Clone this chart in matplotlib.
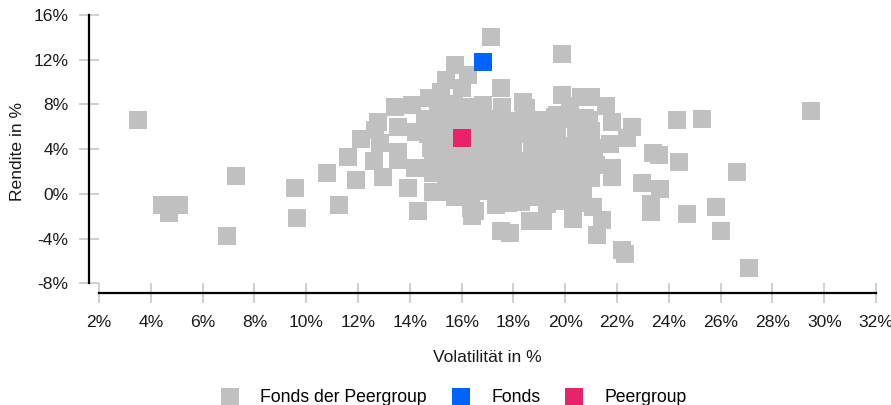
import numpy as np
import matplotlib
matplotlib.use('Agg')
import matplotlib.pyplot as plt

# Peergroup funds: volatility (x) and return (y), in percent
# outliers and left flank
peer_vol = [3.5, 4.45, 5.07, 4.7, 7.27, 6.96, 9.55, 9.66, 10.82, 11.28,
            11.63, 11.94, 12.13, 12.6, 12.98, 12.64, 12.78, 12.85, 13.42, 13.56,
            13.56, 13.56, 13.94, 14.1, 14.19, 14.24, 14.33, 14.75, 14.88, 14.9,
            14.9, 15.4, 15.73, 16.26, 16.0, 15.2, 15.73, 16.36, 16.41, 16.5,
            # top and right flank
            17.12, 19.89, 17.5, 16.84, 17.57, 18.35, 18.5, 19.86, 20.6, 21.0,
            21.58, 19.7, 20.76, 21.82, 22.56, 22.4, 21.73, 20.96, 21.8, 21.8,
            24.33, 25.26, 29.5, 23.4, 23.6, 24.4, 26.64, 22.95, 23.67, 23.3,
            23.3, 24.69, 25.8, 26.03, 27.1, 22.2, 22.3, 21.24, 21.4, 21.08,
            20.31, 18.64, 19.15, 17.5, 17.87, 17.33, 18.94, 19.28,
            # dense core
            15.1, 15.7, 16.3, 20.2,
            14.6, 15.2, 15.9, 16.5, 17.1, 17.8, 18.4, 19.0, 19.6, 20.2, 20.9,
            14.7, 15.3, 15.8, 16.6, 17.2, 17.9, 18.5, 19.1, 19.7, 20.4, 21.0,
            14.8, 15.5, 16.2, 16.8, 17.4, 18.0, 18.7, 19.3, 19.9, 20.5, 21.1,
            15.0, 15.6, 16.3, 16.9, 17.5, 18.2, 18.8, 19.4, 20.0, 20.6, 21.2,
            15.4, 16.0, 16.6, 17.3, 17.9, 18.5, 19.1, 19.8, 20.4, 21.0,
            15.6, 16.2, 16.9, 17.6, 18.2, 18.8, 19.5, 20.1, 20.7,
            17.8, 18.3, 20.0, 20.6]
peer_ret = [6.6, -1.0, -1.0, -1.75, 1.64, -3.81, 0.48, -2.2, 1.84, -1.02,
            3.27, 1.21, 4.88, 2.94, 1.48, 5.71, 6.46, 4.52, 7.74, 6.0,
            3.77, 3.03, 0.5, 7.98, 2.29, 5.57, -1.56, 8.55, 3.18, 1.84,
            0.2, 10.2, 11.53, 10.6, 9.44, 9.1, -0.28, -1.29, -1.95, -1.5,
            14.0, 12.48, 9.44, 7.95, 7.8, 8.26, 7.7, 8.87, 8.7, 8.7,
            7.83, 7.08, 6.76, 6.4, 6.0, 4.97, 4.5, 4.82, 2.29, 1.54,
            6.58, 6.67, 7.39, 3.7, 3.5, 2.82, 1.93, 0.95, 0.44, -0.9,
            -1.6, -1.83, -1.2, -3.35, -6.66, -5.0, -5.4, -3.68, -2.3, -1.15,
            -2.25, -2.43, -2.43, -3.32, -3.5, -1.0, -0.25, -0.9,
            7.9, 8.0, 7.8, 7.9,
            6.7, 6.9, 6.6, 6.8, 6.7, 6.5, 6.8, 6.6, 6.9, 6.7, 6.6,
            5.4, 5.3, 5.6, 5.4, 5.2, 5.5, 5.4, 5.3, 5.5, 5.4, 5.6,
            4.1, 4.0, 4.2, 4.1, 3.9, 4.2, 4.0, 4.1, 4.3, 4.0, 4.1,
            2.8, 2.7, 2.9, 2.8, 2.6, 2.9, 2.8, 2.7, 2.9, 2.8, 2.6,
            1.5, 1.4, 1.6, 1.5, 1.3, 1.6, 1.4, 1.5, 1.6, 1.4,
            0.2, 0.1, 0.3, 0.2, 0.0, 0.3, 0.1, 0.2, 0.3,
            -0.8, -0.7, -0.6, -0.8]

fund_vol = [16.81]
fund_ret = [11.77]
group_vol = [16.0]
group_ret = [4.97]

x_ticks = [2, 4, 6, 8, 10, 12, 14, 16, 18, 20, 22, 24, 26, 28, 30, 32]
y_ticks = [-8, -4, 0, 4, 8, 12, 16]

plt.rcParams['font.family'] = ['Liberation Sans', 'DejaVu Sans']

fig = plt.figure(figsize=(8.91, 4.05), dpi=100)
ax = fig.add_axes([89 / 891, 1 - 293 / 405, 791 / 891, 283 / 405])

sq = 150
h1 = ax.scatter(peer_vol, peer_ret, s=sq, marker='s', color='#c0c0c0',
                linewidths=0, clip_on=False, zorder=2)
h2 = ax.scatter(fund_vol, fund_ret, s=sq, marker='s', color='#0062ff',
                linewidths=0, clip_on=False, zorder=3)
h3 = ax.scatter(group_vol, group_ret, s=sq, marker='s', color='#e8236a',
                linewidths=0, clip_on=False, zorder=4)

ax.set_xlim(1.614, 32.15)
ax.set_ylim(-8.87, 16.45)
ax.set_xticks(x_ticks)
ax.set_yticks(y_ticks)
ax.set_xticklabels([f'{v}%' for v in x_ticks])
ax.set_yticklabels([f'{v}%' for v in y_ticks])

for side in ['top', 'right']:
    ax.spines[side].set_visible(False)
ax.spines['left'].set_bounds(-8, 16)
ax.spines['bottom'].set_bounds(2, 32)
for side in ['left', 'bottom']:
    ax.spines[side].set_linewidth(1.6)
    ax.spines[side].set_color('black')

ax.tick_params(axis='both', direction='inout', length=15, width=1.3,
               color='#cccccc', labelsize=12.6, labelcolor='#1a1a1a')
ax.tick_params(axis='x', pad=8.5)
ax.tick_params(axis='y', pad=7.2)

fig.text(17.5 / 891, 1 - 151 / 405, 'Rendite in %', rotation=90,
         ha='center', va='center', fontsize=12.6, color='#1a1a1a')
fig.text(487 / 891, 1 - 357 / 405, 'Volatilität in %',
         ha='center', va='center', fontsize=12.6, color='#1a1a1a')

fig.legend([h1, h2, h3], ['Fonds der Peergroup', 'Fonds', 'Peergroup'],
           loc='center', bbox_to_anchor=(454 / 891, 1 - 397 / 405), ncol=3,
           frameon=False, fontsize=12.7, handlelength=1.0, handletextpad=1.25,
           columnspacing=1.4, scatterpoints=1, borderpad=0)

fig.savefig('out.png', dpi=100)
